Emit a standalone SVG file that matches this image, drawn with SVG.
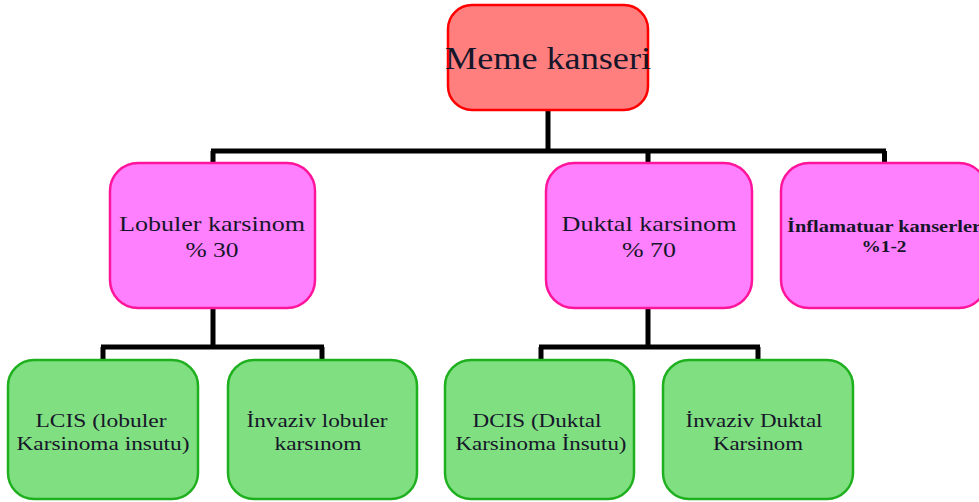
<svg xmlns="http://www.w3.org/2000/svg" width="979" height="502" viewBox="0 0 979 502">
<style>
.red{fill:#FF7F7F;stroke:#FF0000;stroke-width:2.5}
.pink{fill:#FF80FF;stroke:#FF149B;stroke-width:2.5}
.green{fill:#80DF80;stroke:#1FB01F;stroke-width:2.5}
text{font-family:"Liberation Serif","Times New Roman",serif;fill:#16162a;text-anchor:middle}
.t{font-size:21px}
.g{font-size:19px}
.b{font-size:17px;font-weight:bold}
.conn{fill:none;stroke:#000;stroke-width:5}
</style>
<rect width="979" height="502" fill="#fff"/>
<g id="connectors" class="conn">
<path d="M548 110V151M211 151H886M213 151V164M648 151V164M884.5 151V164"/>
<path d="M213 308V347M101 347H324M103 347V361M322 347V361"/>
<path d="M648 308V347M539 347H760M541 347V361M758 347V361"/>
</g>
<g id="root">
<rect class="red" x="448" y="5" width="200" height="105" rx="24"/>
<text x="548" y="69" style="font-size:31px" textLength="206" lengthAdjust="spacingAndGlyphs">Meme kanseri</text>
</g>
<g id="lobuler">
<rect class="pink" x="110" y="163" width="205" height="145" rx="28"/>
<text class="t" x="212" y="231" textLength="186" lengthAdjust="spacingAndGlyphs">Lobuler karsinom</text>
<text class="t" x="212" y="257" textLength="53" lengthAdjust="spacingAndGlyphs">% 30</text>
</g>
<g id="duktal">
<rect class="pink" x="546" y="163" width="206" height="145" rx="28"/>
<text class="t" x="649" y="231" textLength="175" lengthAdjust="spacingAndGlyphs">Duktal karsinom</text>
<text class="t" x="649" y="257" textLength="54" lengthAdjust="spacingAndGlyphs">% 70</text>
</g>
<g id="inflamatuar">
<rect class="pink" x="781" y="163" width="206" height="145" rx="28"/>
<text class="b" x="884" y="232" textLength="194" lengthAdjust="spacingAndGlyphs">İnflamatuar kanserler</text>
<text class="b" x="884" y="252" textLength="45" lengthAdjust="spacingAndGlyphs">%1-2</text>
</g>
<g id="lcis">
<rect class="green" x="8" y="360" width="190" height="139" rx="26"/>
<text class="g" x="101" y="427" textLength="131" lengthAdjust="spacingAndGlyphs">LCIS (lobuler</text>
<text class="g" x="103" y="450" textLength="173" lengthAdjust="spacingAndGlyphs">Karsinoma insutu)</text>
</g>
<g id="invaziv-lobuler">
<rect class="green" x="228" y="360" width="189" height="139" rx="26"/>
<text class="g" x="317" y="427" textLength="141" lengthAdjust="spacingAndGlyphs">İnvaziv lobuler</text>
<text class="g" x="318" y="450" textLength="87" lengthAdjust="spacingAndGlyphs">karsınom</text>
</g>
<g id="dcis">
<rect class="green" x="445" y="360" width="189" height="139" rx="26"/>
<text class="g" x="537" y="427" textLength="129" lengthAdjust="spacingAndGlyphs">DCIS (Duktal</text>
<text class="g" x="541" y="450" textLength="171" lengthAdjust="spacingAndGlyphs">Karsinoma İnsutu)</text>
</g>
<g id="invaziv-duktal">
<rect class="green" x="663" y="360" width="190" height="139" rx="26"/>
<text class="g" x="754" y="427" textLength="137" lengthAdjust="spacingAndGlyphs">İnvaziv Duktal</text>
<text class="g" x="758" y="450" textLength="90" lengthAdjust="spacingAndGlyphs">Karsinom</text>
</g>
</svg>
